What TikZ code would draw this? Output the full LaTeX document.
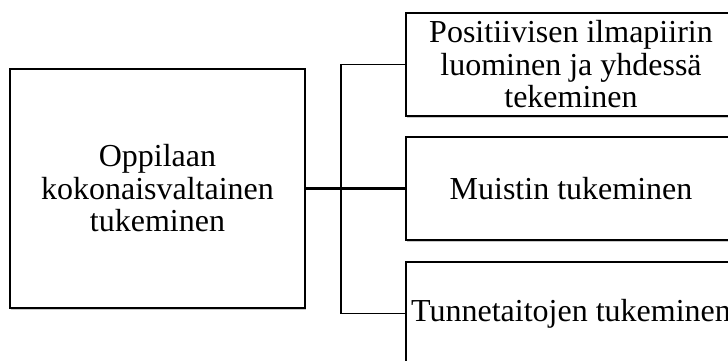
\documentclass[tikz,border=0pt]{standalone}
\usepackage{fontspec}
\setmainfont{Liberation Serif}
\usetikzlibrary{shadows}
\begin{document}
\begin{tikzpicture}[x=1pt,y=-1pt,
  box/.style={draw=black, line width=1.7pt, fill=white, align=center,
    inner sep=0pt, font=\fontsize{32}{32.5}\selectfont,
    drop shadow={shadow xshift=1.2pt, shadow yshift=-1.5pt, opacity=0.35, fill=black!60}},
  conn/.style={draw=black, line width=1.6pt},
  trunk/.style={draw=black, line width=3.2pt}]
\clip (0,0) rectangle (728,361);
\fill[white] (0,0) rectangle (728,361);

% main topic
\node[box, minimum width=295, minimum height=239] (main) at (157.5,188.5)
  {Oppilaan\\kokonaisvaltainen\\tukeminen};

% sub-topics
\node[box, minimum width=330, minimum height=103] (ilma) at (571,64.5)
  {Positiivisen ilmapiirin\\luominen ja yhdessä\\tekeminen};
\node[box, minimum width=330, minimum height=103] (muisti) at (571,188.5)
  {Muistin tukeminen};
\node[box, minimum width=330, minimum height=103] (tunne) at (571,313.5)
  {Tunnetaitojen tukeminen};

% bracket joints
\coordinate (jt) at (341,64.5);
\coordinate (jb) at (341,313.5);

\draw[conn] (ilma.west) -- (jt) -- (jb) -- (tunne.west);
\draw[trunk] (main.east) -- (muisti.west);
\end{tikzpicture}
\end{document}
